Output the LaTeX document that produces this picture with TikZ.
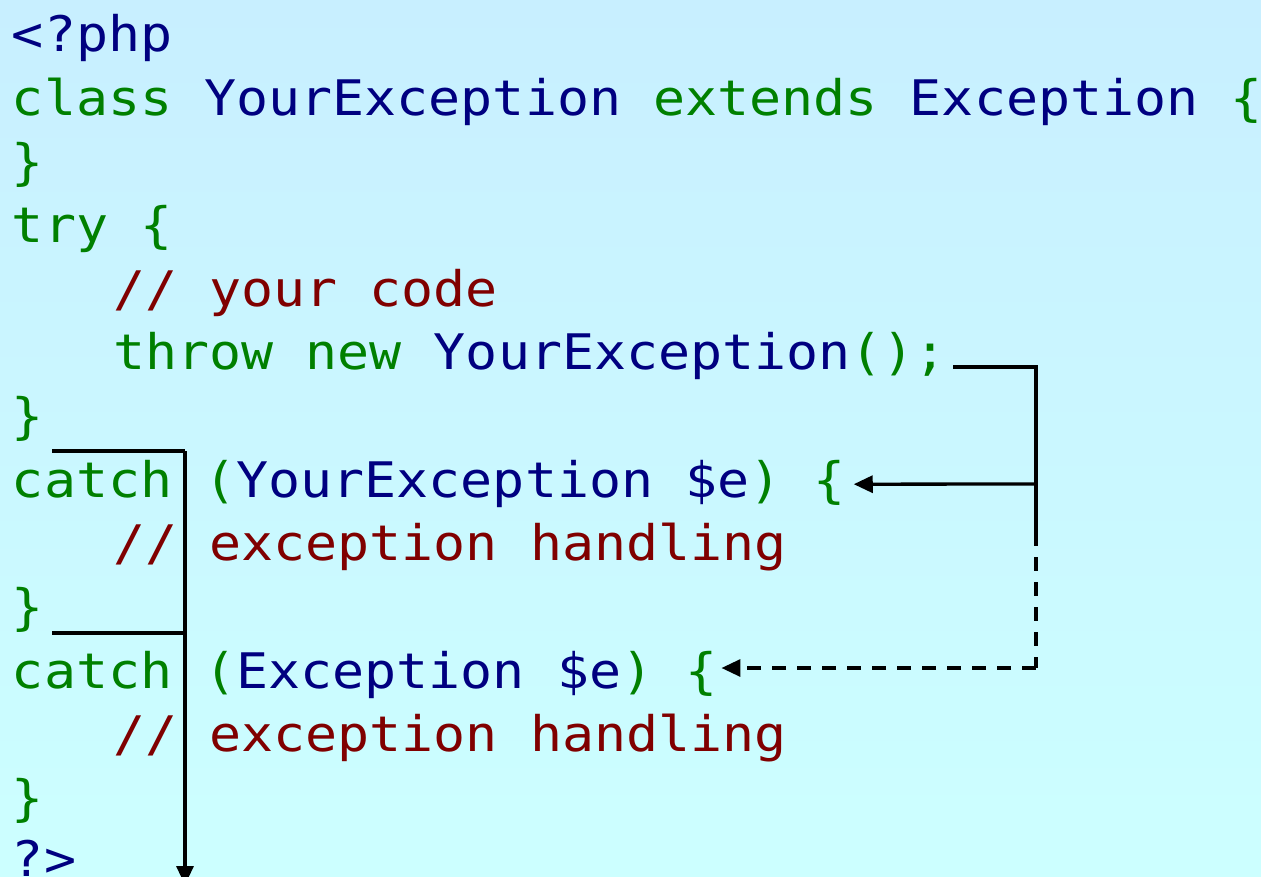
\documentclass[tikz,border=0pt]{standalone}
\usepackage{fontspec}
\usetikzlibrary{arrows.meta,calc}
\newfontfamily\codefont[FakeStretch=1.087]{DejaVu Sans Mono}
\definecolor{kgreen}{RGB}{0,128,0}
\definecolor{kblue}{RGB}{0,0,128}
\definecolor{kred}{RGB}{128,0,0}
\definecolor{bgtop}{RGB}{200,239,255}
\definecolor{bgbot}{RGB}{204,255,255}
\newcommand\codeG[1]{\textcolor{kgreen}{#1}}
\newcommand\codeB[1]{\textcolor{kblue}{#1}}
\newcommand\codeR[1]{\textcolor{kred}{#1}}
\begin{document}
\begin{tikzpicture}[x=1pt,y=-1pt,
  codeline/.style={anchor=base west,inner sep=0pt,outer sep=0pt,
    font=\codefont\fontsize{49}{60}\selectfont},
  conn/.style={line width=3.3pt,black},
  tip/.style={-{Triangle[length=19pt,width=17pt]}},
  dashconn/.style={conn,dash pattern=on 14pt off 11pt}]
\shade[top color=bgtop,bottom color=bgbot] (0,0) rectangle (1261,877);
\useasboundingbox (0,0) rectangle (1261,877);
\node[codeline] (l0) at (12,52.0) {\codeB{<?php}};
\node[codeline] (l1) at (12,115.6) {\codeG{class} \codeB{YourException} \codeG{extends} \codeB{Exception} \codeG{\{}};
\node[codeline] (l2) at (12,179.2) {\codeG{\}}};
\node[codeline] (l3) at (12,242.8) {\codeG{try \{}};
\node[codeline] (l4) at (17,306.4) {~~~\codeR{// your code}};
\node[codeline] (l5) at (17,370.0) {~~~\codeG{throw new} \codeB{YourException}\codeG{();}};
\node[codeline] (l6) at (12,433.6) {\codeG{\}}};
\node[codeline] (l7) at (12,497.2) {\codeG{catch (}\codeB{YourException \$e}\codeG{) \{}};
\node[codeline] (l8) at (17,560.8) {~~~\codeR{// exception handling}};
\node[codeline] (l9) at (12,624.4) {\codeG{\}}};
\node[codeline] (l10) at (12,688.0) {\codeG{catch (}\codeB{Exception \$e}\codeG{) \{}};
\node[codeline] (l11) at (17,751.6) {~~~\codeR{// exception handling}};
\node[codeline] (l12) at (12,815.2) {\codeG{\}}};
\node[codeline] (l13) at (12,876.0) {\codeB{?>}};
% right-hand connectors
\coordinate (thr) at (953,367);
\coordinate (rc) at (1036,367);
\coordinate (rj) at (1036,484);
\coordinate (rs) at (1036,532);
\coordinate (rd) at (1036,668);
\coordinate (c1) at ($(l7.base east)+(8,-13)$);
\coordinate (c2) at ($(l10.base east)+(4,-20)$);
\draw[conn] (thr) -- (rc) -- (rs);
\draw[conn,tip] (rj) -- (c1);
\draw[dashconn] (rs) -- (rd);
\draw[dashconn,tip] (rd) -- (c2);
% left-hand connectors
\coordinate (la) at (52,451);
\coordinate (lb) at (185,451);
\coordinate (lc) at (52,633);
\coordinate (ld) at (185,633);
\coordinate (le) at (185,885);
\draw[conn] (la) -- (lb);
\draw[conn] (lc) -- (ld);
\draw[conn,tip] (lb) -- (le);
\end{tikzpicture}
\end{document}
